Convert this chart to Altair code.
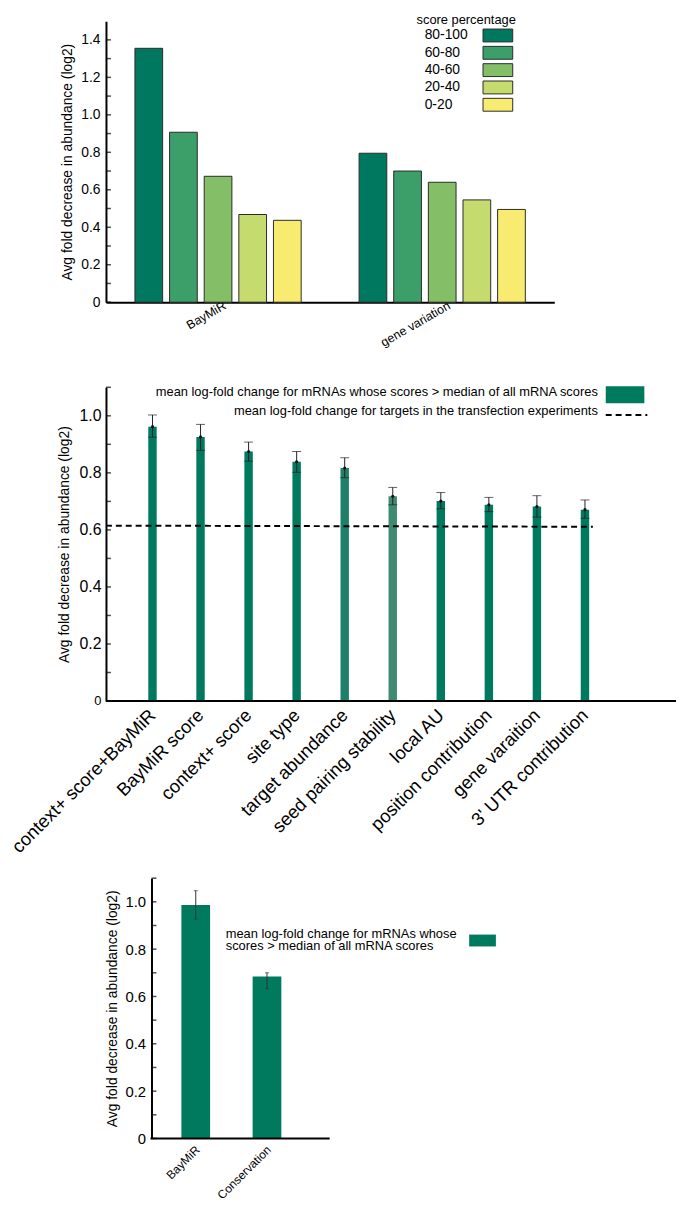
import altair as alt
import pandas as pd

FONT = "Liberation Sans"
Y_TITLE = "Avg fold decrease in abundance (log2)"

# ---------------- Panel 1 data ----------------
groups = ["BayMiR", "gene variation"]
pct_cats = ["80-100", "60-80", "40-60", "20-40", "0-20"]
pct_colors = ["#00785f", "#3c9e69", "#84be66", "#c6db6e", "#f8ec70"]
baymir_vals = [1.355, 0.907, 0.672, 0.468, 0.437]
genevar_vals = [0.795, 0.700, 0.640, 0.546, 0.495]
p1_tick_vals = [0.0, 0.1, 0.2, 0.3, 0.4, 0.5, 0.6, 0.7, 0.8, 0.9, 1.0, 1.1, 1.2, 1.3, 1.4]
p1_label_vals = [0.0, 0.2, 0.4, 0.6, 0.8, 1.0, 1.2, 1.4]
legend1_title = "score percentage"

# ---------------- Panel 2 data ----------------
features = ["context+ score+BayMiR", "BayMiR score", "context+ score", "site type",
            "target abundance", "seed pairing stability", "local AU",
            "position contribution", "gene varaition", "3' UTR contribution"]
feat_mean = [0.962, 0.926, 0.875, 0.839, 0.817, 0.718, 0.701, 0.688, 0.682, 0.671]
feat_lo = [0.925, 0.879, 0.841, 0.802, 0.783, 0.688, 0.674, 0.664, 0.645, 0.641]
feat_hi = [1.003, 0.970, 0.908, 0.875, 0.853, 0.749, 0.731, 0.714, 0.720, 0.705]
feat_colors = ["#007a5e", "#007a5e", "#007a5e", "#007a5e", "#1e8068",
               "#3e8a72", "#007a5e", "#007a5e", "#007a5e", "#007a5e"]
transfection_start = [0.615]
transfection_end = [0.611]
p2_tick_vals = [0.0, 0.1, 0.2, 0.3, 0.4, 0.5, 0.6, 0.7, 0.8, 0.9, 1.0, 1.1]
p2_label_vals = [0.0, 0.2, 0.4, 0.6, 0.8, 1.0]
legend2_bar = "mean log-fold change for mRNAs whose scores > median of all mRNA scores"
legend2_line = "mean log-fold change for targets in the transfection experiments"

# ---------------- Panel 3 data ----------------
methods = ["BayMiR", "Conservation"]
meth_mean = [0.987, 0.684]
meth_lo = [0.927, 0.633]
meth_hi = [1.047, 0.700]
legend3_line1 = "mean log-fold change for mRNAs whose"
legend3_line2 = "scores > median of all mRNA scores"

GREEN = "#007a5e"
LBL = "datum.value == 0 ? '0' : format(datum.value, '.1f')"
one = pd.DataFrame({"k": [0]})

# ================= Panel 1 =================
df1 = pd.DataFrame({
    "group": [g for g in groups for _ in pct_cats],
    "pct": pct_cats * 2,
    "value": baymir_vals + genevar_vals,
})
y1 = alt.Scale(domain=[0, 1.5], nice=False, zero=True)
yax1 = alt.Axis(values=p1_label_vals, labelExpr=LBL, ticks=False,
                labelFontSize=14, labelPadding=6, title=Y_TITLE,
                titleFontSize=14, titlePadding=6, domainWidth=2)
color1 = alt.Color("pct:N", sort=pct_cats,
                   scale=alt.Scale(domain=pct_cats, range=pct_colors), legend=None)

bars1 = alt.Chart(df1).mark_bar(stroke="#2b2b2b", strokeWidth=1).encode(
    x=alt.X("group:N", sort=groups,
            scale=alt.Scale(paddingInner=0, paddingOuter=0),
            axis=alt.Axis(title=None, labelAngle=-30, labelAlign="right",
                          labelBaseline="middle", labelFontSize=12.5, labelPadding=2,
                          labelOffset=7, ticks=False, domainWidth=2)),
    xOffset=alt.XOffset("pct:N", sort=pct_cats,
                        scale=alt.Scale(paddingInner=0.2, paddingOuter=0.836)),
    y=alt.Y("value:Q", scale=y1, axis=yax1, title=Y_TITLE),
    color=color1,
)
yt1 = alt.Chart(pd.DataFrame({"t": p1_tick_vals})).mark_tick(
    color="black", thickness=1.5, size=5).encode(
    y=alt.Y("t:Q", scale=y1, axis=yax1, title=Y_TITLE), x=alt.value(2.5))

leg1 = pd.DataFrame({"pct": pct_cats})
ly1 = alt.Scale(domain=pct_cats, range=[8, 91], paddingInner=0.257, paddingOuter=0)
leg1_rect = alt.Chart(leg1).mark_rect(stroke="#2b2b2b", strokeWidth=1).encode(
    x=alt.value(381), x2=alt.value(411),
    y=alt.Y("pct:N", sort=pct_cats, scale=ly1, axis=None), color=color1)
leg1_text = alt.Chart(leg1).mark_text(align="left", baseline="middle", fontSize=14).encode(
    x=alt.value(322), y=alt.Y("pct:N", sort=pct_cats, scale=ly1, axis=None), text="pct:N")
leg1_title = alt.Chart(pd.DataFrame({"t": [legend1_title]})).mark_text(
    align="center", baseline="middle", fontSize=13).encode(
    x=alt.value(364), y=alt.value(-1), text="t:N")

p1 = alt.layer(
    alt.layer(bars1, yt1),
    alt.layer(leg1_rect, leg1_text, leg1_title),
).resolve_scale(y="independent").properties(width=453, height=284)

# ================= Panel 2 =================
W2, H2 = 576, 317
df2 = pd.DataFrame({"feature": features, "mean": feat_mean, "lo": feat_lo, "hi": feat_hi})
x2s = alt.Scale(domain=features, range=[42.75, 488.25], paddingInner=0.825, paddingOuter=0)
y2s = alt.Scale(domain=[0, 1.1], nice=False, zero=True)
xax2 = alt.Axis(title=None, labelAngle=-45, labelAlign="right",
                labelBaseline="middle", labelFontSize=18.5, labelPadding=11,
                ticks=False, domain=False, labelLimit=400)
yax2 = alt.Axis(values=p2_label_vals, labelExpr=LBL, ticks=False,
                labelFontSize={"condition": {"test": "datum.value == 0", "value": 13}, "value": 16},
                labelPadding=5, title=Y_TITLE, titleFontSize=14,
                titlePadding=8, domainWidth=2)
xe = alt.X("feature:N", sort=features, scale=x2s, axis=xax2, title=None)


def y2(field):
    return alt.Y(field, scale=y2s, axis=yax2, title=Y_TITLE)


bars2 = alt.Chart(df2).mark_bar().encode(
    x=xe, y=y2("mean:Q"),
    color=alt.Color("feature:N", sort=features,
                    scale=alt.Scale(domain=features, range=feat_colors), legend=None),
)
err2 = alt.Chart(df2).mark_rule(color="#222222", strokeWidth=1).encode(
    x=xe, y=y2("lo:Q"), y2="hi:Q")
caphi2 = alt.Chart(df2).mark_tick(color="#222222", size=9, thickness=1).encode(
    x=xe, y=y2("hi:Q"))
caplo2 = alt.Chart(df2).mark_tick(color="#222222", size=9, thickness=1).encode(
    x=xe, y=y2("lo:Q"))
dot2 = alt.Chart(df2).mark_point(filled=True, size=10, color="#111111", opacity=1).encode(
    x=xe, y=y2("mean:Q"))
dash2 = alt.Chart(pd.DataFrame({"a": transfection_start, "b": transfection_end})).mark_rule(
    strokeDash=[6, 4], strokeWidth=2, color="black").encode(
    x=alt.value(0), x2=alt.value(492), y=y2("a:Q"), y2="b:Q")
yt2 = alt.Chart(pd.DataFrame({"t": p2_tick_vals})).mark_tick(
    color="black", thickness=1.5, size=5).encode(y=y2("t:Q"), x=alt.value(2.5))
base2 = alt.Chart(one).mark_rule(color="black", strokeWidth=2).encode(
    x=alt.value(0), x2=alt.value(W2), y=alt.value(H2))

leg2_t1 = alt.Chart(one).mark_text(align="right", baseline="middle", fontSize=13,
                                   text=legend2_bar).encode(x=alt.value(497), y=alt.value(5))
leg2_t2 = alt.Chart(one).mark_text(align="right", baseline="middle", fontSize=13,
                                   text=legend2_line).encode(x=alt.value(497), y=alt.value(24))
leg2_sw = alt.Chart(one).mark_rect(color=GREEN).encode(
    x=alt.value(505), x2=alt.value(544), y=alt.value(-1), y2=alt.value(16))
leg2_dash = alt.Chart(one).mark_rule(strokeDash=[6, 4], strokeWidth=2, color="black").encode(
    x=alt.value(505), x2=alt.value(547), y=alt.value(28))
space2 = alt.Chart(one).mark_rect(opacity=0).encode(
    x=alt.value(300), x2=alt.value(301), y=alt.value(-26), y2=alt.value(0))

p2 = alt.layer(bars2, err2, caphi2, caplo2, dot2, dash2, yt2, base2,
               leg2_t1, leg2_t2, leg2_sw, leg2_dash, space2).properties(width=W2, height=H2)

# ================= Panel 3 =================
df3 = pd.DataFrame({"method": methods, "mean": meth_mean, "lo": meth_lo, "hi": meth_hi})
x3s = alt.Scale(domain=methods, range=[76.2, 177.2], paddingInner=0.597, paddingOuter=0)
y3s = alt.Scale(domain=[0, 1.1], nice=False, zero=True)
xax3 = alt.Axis(title=None, labelAngle=-45, labelAlign="right",
                labelBaseline="middle", labelFontSize=12, labelPadding=9,
                labelOffset=2, ticks=False, domain=False)
yax3 = alt.Axis(values=p2_label_vals, labelExpr=LBL, ticks=False, offset=-46,
                labelFontSize=15, labelPadding=6, title=Y_TITLE,
                titleFontSize=14, titlePadding=6, domainWidth=2)
xe3 = alt.X("method:N", sort=methods, scale=x3s, axis=xax3, title=None)


def y3(field):
    return alt.Y(field, scale=y3s, axis=yax3, title=Y_TITLE)


bars3 = alt.Chart(df3).mark_bar(color=GREEN).encode(x=xe3, y=y3("mean:Q"))
err3 = alt.Chart(df3).mark_rule(color="#333333", strokeWidth=1).encode(
    x=xe3, y=y3("lo:Q"), y2="hi:Q")
caphi3 = alt.Chart(df3).mark_tick(color="#333333", size=4, thickness=1).encode(
    x=xe3, y=y3("hi:Q"))
caplo3 = alt.Chart(df3).mark_tick(color="#333333", size=4, thickness=1).encode(
    x=xe3, y=y3("lo:Q"))
base3 = alt.Chart(one).mark_rule(color="black", strokeWidth=2).encode(
    x=alt.value(45), x2=alt.value(226), y=alt.value(263))
yt3 = alt.Chart(pd.DataFrame({"t": p2_tick_vals})).mark_tick(
    color="black", thickness=1.5, size=5).encode(y=y3("t:Q"), x=alt.value(48.5))
leg3_t1 = alt.Chart(one).mark_text(align="left", baseline="middle", fontSize=13,
                                   text=legend3_line1).encode(x=alt.value(121), y=alt.value(56))
leg3_t2 = alt.Chart(one).mark_text(align="left", baseline="middle", fontSize=13,
                                   text=legend3_line2).encode(x=alt.value(121), y=alt.value(69))
leg3_sw = alt.Chart(one).mark_rect(color=GREEN).encode(
    x=alt.value(367), x2=alt.value(394), y=alt.value(57), y2=alt.value(69))
space3 = alt.Chart(one).mark_rect(opacity=0).encode(
    x=alt.value(100), x2=alt.value(101), y=alt.value(-9), y2=alt.value(0))

p3 = alt.layer(bars3, err3, caphi3, caplo3, base3, yt3,
               leg3_t1, leg3_t2, leg3_sw, space3).properties(width=226, height=263)

chart = alt.concat(p1, p2, p3, columns=1, spacing={"row": 13, "column": 0},
                   align={"row": "none", "column": "each"}).resolve_scale(
    color="independent", x="independent", y="independent"
).properties(
    padding={"left": 0, "top": 0, "right": 0, "bottom": 0}
).configure(font=FONT).configure_view(stroke=None).configure_axis(
    grid=False, domainColor="black", labelColor="black", titleColor="black",
    titleFontWeight="normal", labelFont=FONT, titleFont=FONT
)

chart.save("out.html", embed_options={"renderer": "svg", "actions": False})
